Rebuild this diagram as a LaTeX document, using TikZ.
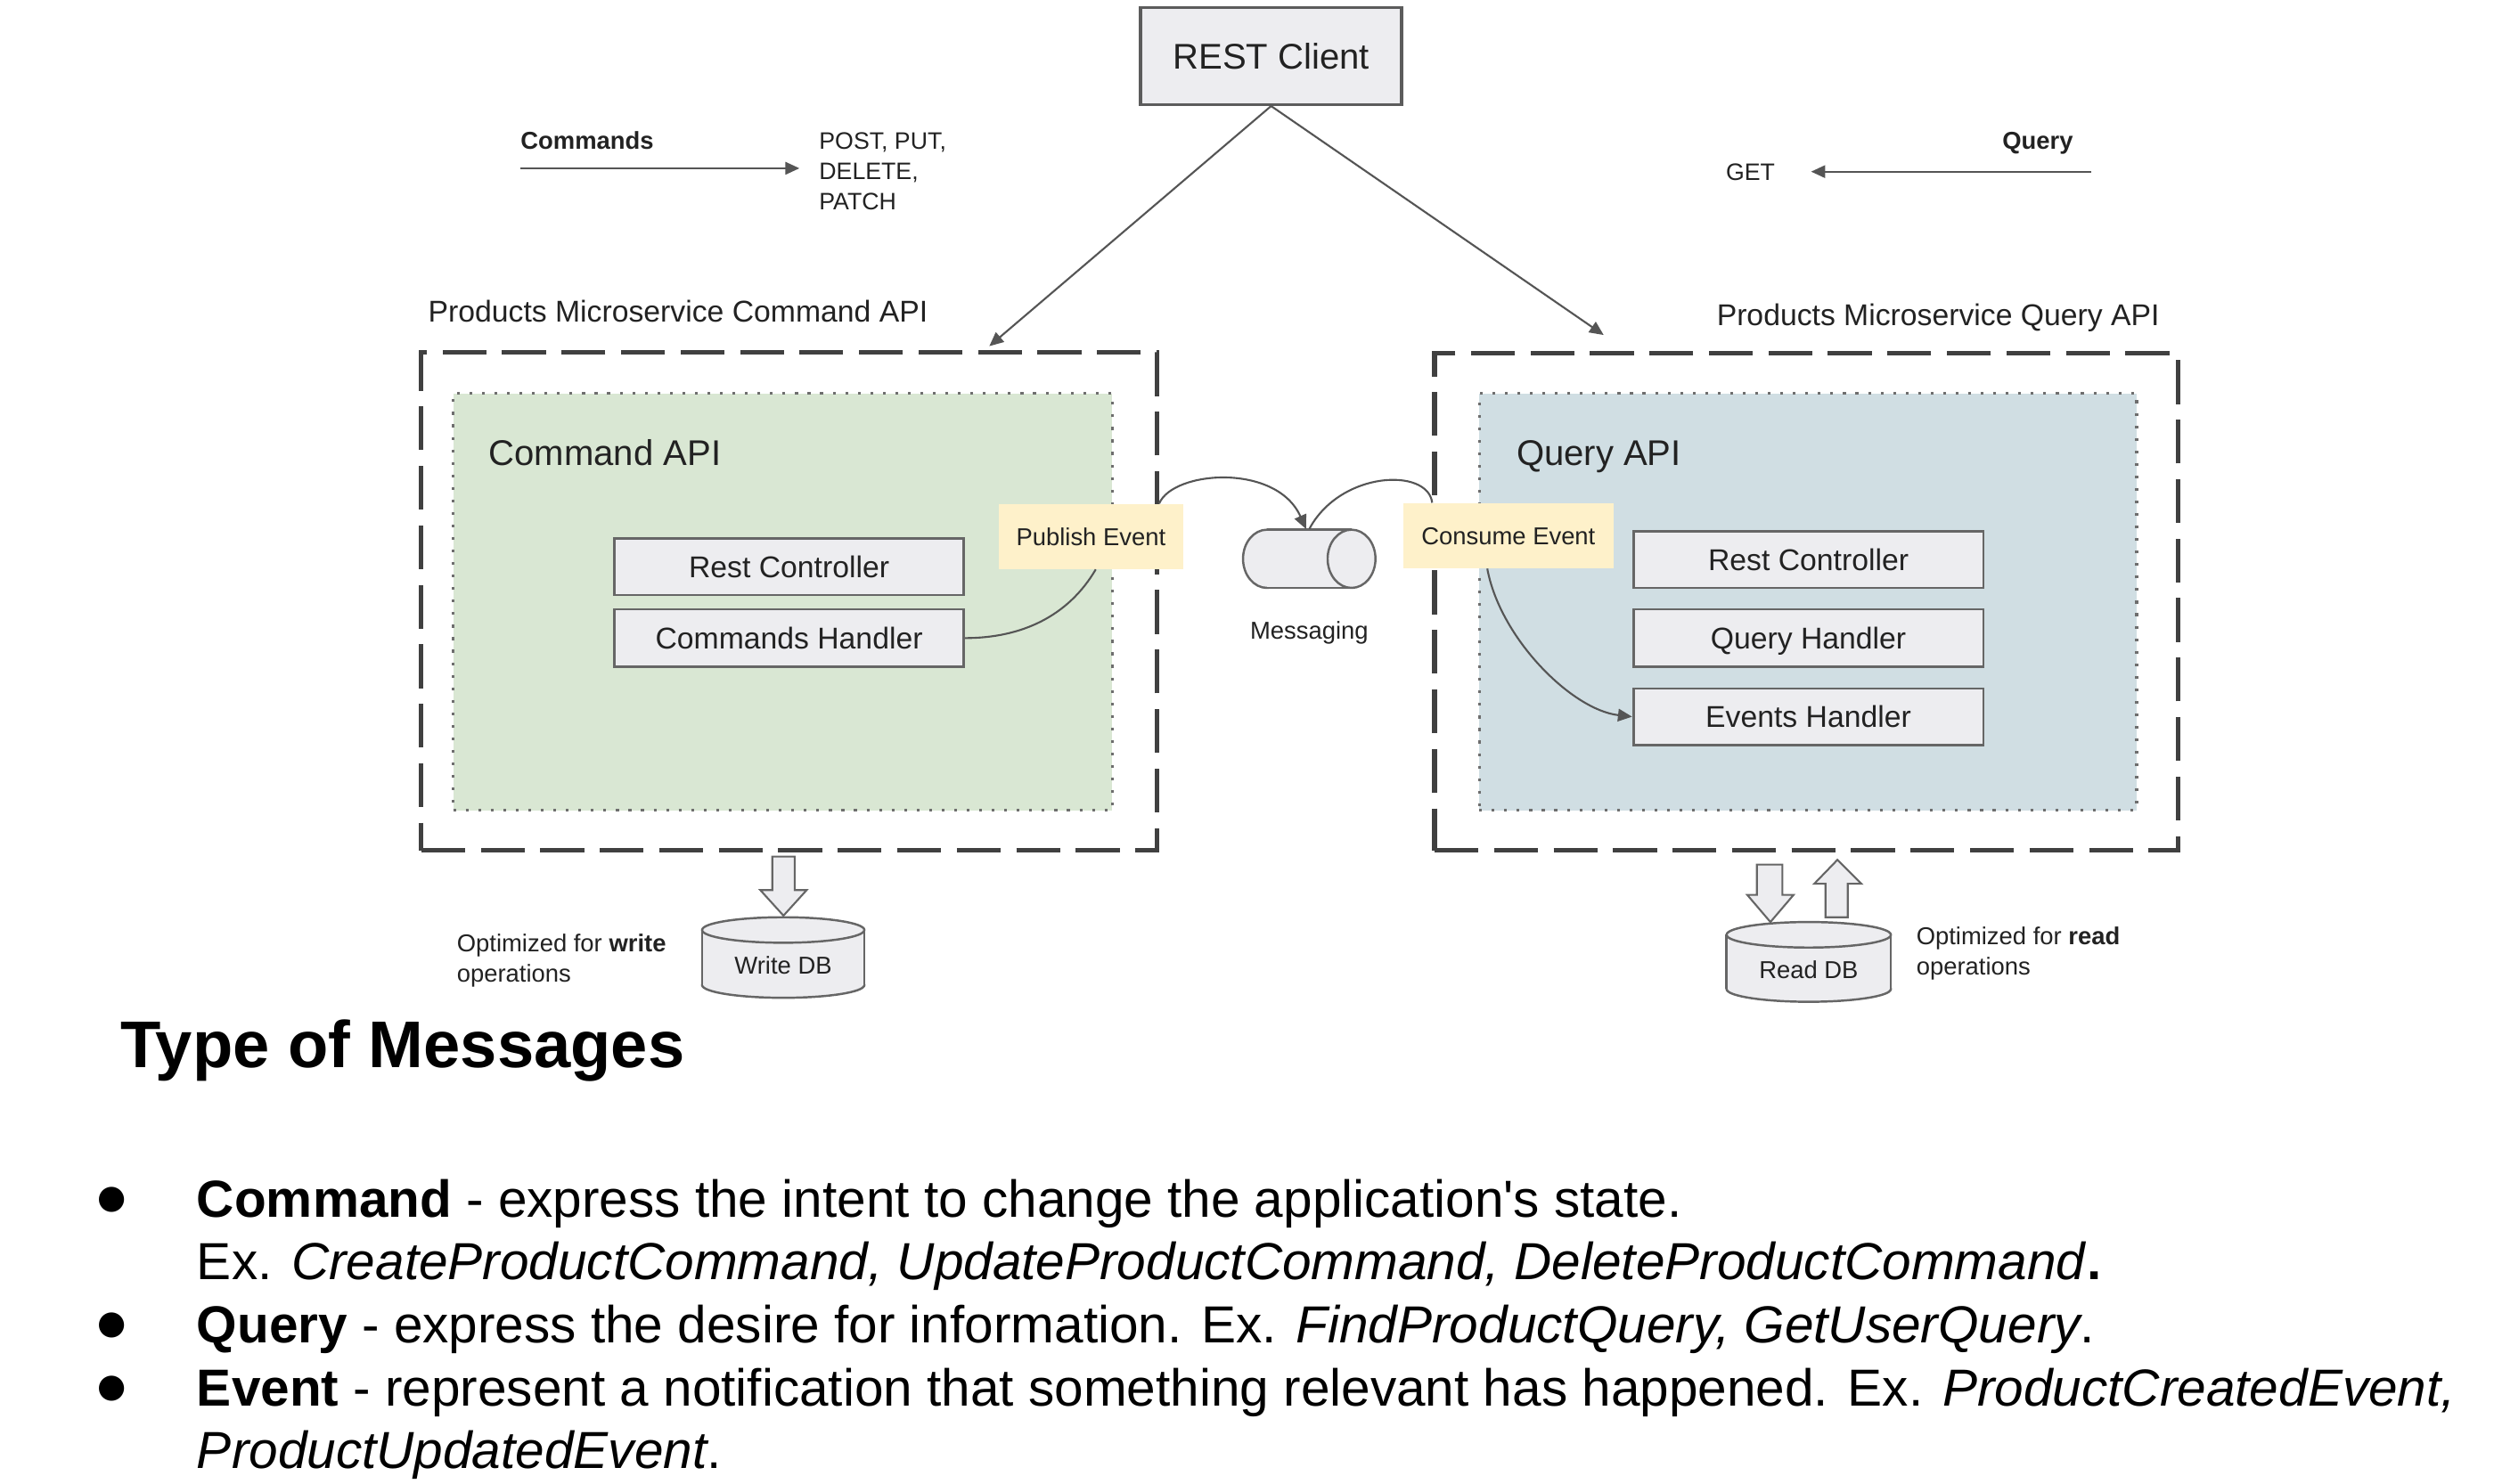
\documentclass[tikz,border=0pt]{standalone}
\usepackage{fontspec}
\setmainfont{Liberation Sans}
\newfontfamily\plainfont{Liberation Sans}
\newfontfamily\symfont{DejaVu Sans}
\usetikzlibrary{arrows.meta,calc}
\newlength\uu \setlength\uu{0.1791mm}
\definecolor{txt}{HTML}{222222}
\definecolor{boxfill}{HTML}{EDEDF0}
\definecolor{boxline}{HTML}{666666}
\definecolor{dashc}{HTML}{404040}
\definecolor{dotc}{HTML}{6E6E6E}
\definecolor{greenf}{HTML}{D9E7D3}
\definecolor{bluef}{HTML}{D0DEE3}
\definecolor{yellowf}{HTML}{FEF1CA}
\definecolor{arrc}{HTML}{555555}
\newcommand\fs[2]{\fontsize{#1}{#2}\selectfont}
\tikzset{
 graybox/.style={draw=boxline, fill=boxfill, line width=0.8pt, inner sep=0pt, text=txt, font=\fs{9.6}{11}, text height=6.9pt, text depth=0pt},
 evbox/.style={fill=yellowf, inner sep=0pt, text=txt, font=\fs{7.8}{9}, text height=5.6pt, text depth=0pt},
 outerbox/.style={draw=dashc, line width=1.5pt, dash pattern=on 14pt off 5pt},
 innerbox/.style={draw=dotc, line width=0.9pt, dash pattern=on 0.9pt off 3.1pt},
 lbl/.style={inner sep=0pt, text=txt},
 conn/.style={draw=arrc, line width=0.6pt},
 arrowtip/.style={-{Triangle[length=4.5pt,width=4pt]}},
 blockarrow/.style={draw=boxline, fill=boxfill, line width=0.6pt, line join=miter},
 cyl/.style={draw=boxline, fill=boxfill, line width=0.7pt},
 small/.style={font=\fs{7.8}{9}},
 mid/.style={font=\fs{9.6}{11}},
 big/.style={font=\fs{11.4}{13}},
 body/.style={inner sep=0pt, text=black, font=\fs{16.65}{20}, anchor=base west},
 bullet/.style={inner sep=0pt, text=black, font=\symfont\fs{10.5}{12}, anchor=center},
}
\begin{document}
\begin{tikzpicture}[x=0.1791mm,y=-0.1791mm]
\useasboundingbox[fill=white] (0,0) rectangle (1568,930);

% REST client
\node[graybox, line width=1pt, draw=boxline!90!black, font=\fs{11.4}{13}, text height=8.2pt, minimum width=163.7\uu, minimum height=60.8\uu] (rest) at (796.6,35.1) {REST Client};
\coordinate (cmdend) at (620,217);
\coordinate (qend) at (1005,210);
\draw[conn,arrowtip] (rest.south) -- (cmdend);
\draw[conn,arrowtip] (rest.south) -- (qend);

% Commands / Query legends
\node[lbl, small, anchor=base, font=\fs{7.8}{9}\bfseries] (cmdlbl) at (368,93.5) {Commands};
\coordinate (cmdA) at (326,105.5);
\coordinate (cmdB) at (501,105.5);
\draw[conn,arrowtip] (cmdA) -- (cmdB);
\node[lbl, anchor=base west, font=\fs{7.6}{9.6}] (post1) at (513,93.5) {POST, PUT,};
\node[lbl, anchor=base west, font=\fs{7.6}{9.6}] (post2) at (513,112.5) {DELETE,};
\node[lbl, anchor=base west, font=\fs{7.6}{9.6}] (post3) at (513,131.5) {PATCH};

\node[lbl, anchor=base, font=\fs{7.8}{9}\bfseries] (qlbl) at (1277,93.5) {Query};
\coordinate (qA) at (1310.5,107.6);
\coordinate (qB) at (1135,107.6);
\draw[conn,arrowtip] (qA) -- (qB);
\node[lbl, anchor=base, font=\fs{7.6}{9.6}] (get) at (1097,113) {GET};

% titles
\node[lbl, mid, anchor=base west] (ctitle) at (268,201.8) {Products Microservice Command API};
\node[lbl, mid, anchor=base west] (qtitle) at (1075.5,204.3) {Products Microservice Query API};

% outer dashed boxes
\node[outerbox, minimum width=461\uu, minimum height=312\uu] (lbox) at (494.5,377) {};
\node[outerbox, minimum width=466\uu, minimum height=311.5\uu] (rbox) at (1132,377.25) {};

% inner dotted boxes
\node[innerbox, fill=greenf, minimum width=413\uu, minimum height=261.4\uu] (gbox) at (490.5,377.3) {};
\node[innerbox, fill=bluef, minimum width=412\uu, minimum height=261.4\uu] (bbox) at (1133,377.3) {};

\node[lbl, big, anchor=base west] (capi) at (306,292) {Command API};
\node[lbl, big, anchor=base west] (qapi) at (950,292) {Query API};

% left component boxes
\node[graybox, minimum width=219\uu, minimum height=35.7\uu] (lrc) at (494.5,355.2) {Rest Controller};
\node[graybox, minimum width=219\uu, minimum height=36\uu] (lch) at (494.5,400) {Commands Handler};

% right component boxes
\node[graybox, minimum width=219.4\uu, minimum height=35.5\uu] (rrc) at (1133.3,350.8) {Rest Controller};
\node[graybox, minimum width=219.4\uu, minimum height=36\uu] (rqh) at (1133.3,400) {Query Handler};
\node[graybox, minimum width=219.4\uu, minimum height=35.4\uu] (reh) at (1133.3,449.3) {Events Handler};

% event boxes
\node[evbox, minimum width=115.9\uu, minimum height=40.5\uu] (pe) at (683.7,336.3) {Publish Event};
\node[evbox, minimum width=131.5\uu, minimum height=40.5\uu] (ce) at (945.3,335.8) {Consume Event};

% messaging cylinder
\draw[cyl] (794,350.3) ellipse [x radius=15, y radius=18.25];
\fill[boxfill] (794,332) rectangle (847,368.5);
\draw[boxline, line width=0.7pt] (794,332) -- (847,332) (794,368.5) -- (847,368.5);
\draw[cyl] (847,350.3) ellipse [x radius=15, y radius=18.25];
\node[inner sep=0pt, minimum width=83\uu, minimum height=36.5\uu] (msg) at (820.5,350.3) {};
\node[lbl, small, anchor=base] (msglbl) at (820.5,400.5) {Messaging};

% event connectors
\draw[conn] (lch.east) .. controls ($(lch.east)+(36,0)$) and ($(pe.south)+(-14,29)$) .. ($(pe.south)+(3,0)$);
\draw[conn,arrowtip] (lbox.east |- pe.north) .. controls (735,295) and (800,290) .. ($(msg.north)+(-2,0)$);
\draw[conn] (msg.north) .. controls (840,295) and (895,293) .. (rbox.west |- ce.north);
\draw[conn,arrowtip] ($(ce.south west)!0.4!(ce.south east)$) .. controls (940,400) and (985,445) .. (reh.west);

% block arrows
\draw[blockarrow] (484,537) -- (498,537) -- (498,558) -- (505.5,558) -- (491,574) -- (476.5,558) -- (484,558) -- cycle;
\draw[blockarrow] (1101,542) -- (1117,542) -- (1117,561) -- (1124,561) -- (1109.5,578) -- (1095,561) -- (1101,561) -- cycle;
\draw[blockarrow] (1144,575) -- (1158,575) -- (1158,554) -- (1166.5,554) -- (1151.5,539) -- (1137,554) -- (1144,554) -- cycle;

% Write DB
\draw[cyl] (490.85,617.5) ellipse [x radius=50.85, y radius=8];
\fill[boxfill] (440,583) rectangle (541.7,617.5);
\draw[boxline, line width=0.7pt] (440,583) -- (440,617.5) (541.7,583) -- (541.7,617.5);
\draw[cyl] (490.85,583) ellipse [x radius=50.85, y radius=8];
\node[lbl, small, anchor=base] (wdb) at (490.85,610.5) {Write DB};

% Read DB
\draw[cyl] (1133.5,620) ellipse [x radius=51.5, y radius=8];
\fill[boxfill] (1082,586) rectangle (1185,620);
\draw[boxline, line width=0.7pt] (1082,586) -- (1082,620) (1185,586) -- (1185,620);
\draw[cyl] (1133.5,586) ellipse [x radius=51.5, y radius=8];
\node[lbl, small, anchor=base] (rdb) at (1133.5,613.5) {Read DB};

% optimized labels
\node[lbl, small, anchor=base west] (ow1) at (286,596.5) {Optimized for \textbf{write}};
\node[lbl, small, anchor=base west] (ow2) at (286,615.5) {operations};
\node[lbl, small, anchor=base west] (or1) at (1200.6,592) {Optimized for \textbf{read}};
\node[lbl, small, anchor=base west] (or2) at (1200.6,611) {operations};

% bottom text
\node[inner sep=0pt, anchor=base west, font=\fs{21.1}{25}\bfseries] (head) at (75,669) {Type of Messages};

\node[bullet] (b1) at (70,752) {●};
\node[bullet] (b2) at (70,831) {●};
\node[bullet] (b3) at (70,870.5) {●};

\node[body] (l1) at (123,763) {\textbf{Command} - express the intent to change the application{\plainfont'}s state.};
\node[body] (l2) at (123,802.4) {Ex. \textit{CreateProductCommand, UpdateProductCommand, DeleteProductCommand}\textbf{.}};
\node[body] (l3) at (123,841.8) {\textbf{Query} - express the desire for information. Ex. \textit{FindProductQuery, GetUserQuery}.};
\node[body] (l4) at (123,881.2) {\textbf{Event} - represent a notification that something relevant has happened. Ex. \textit{ProductCreatedEvent,}};
\node[body] (l5) at (123,920.6) {\textit{ProductUpdatedEvent}.};
\end{tikzpicture}
\end{document}
